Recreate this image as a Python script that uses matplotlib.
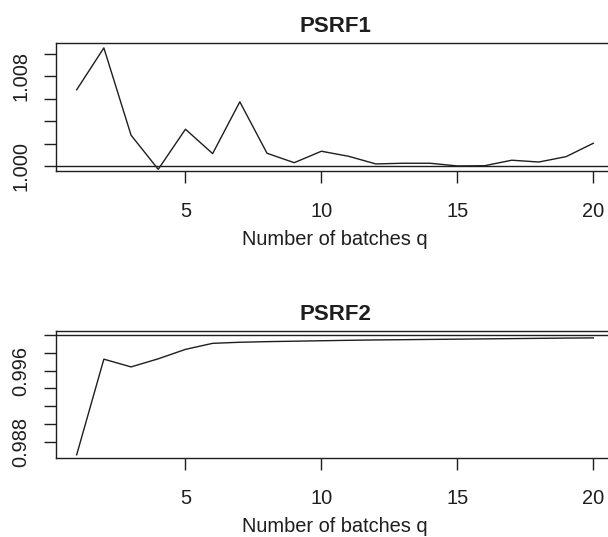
import numpy as np
from matplotlib import pyplot as plt

plt.rcParams['font.family'] = ['Liberation Sans', 'DejaVu Sans']

# Numero de batches
q = list(range(1, 21))

# Valores
psrf1 = [1.00681, 1.01054, 1.00277, 0.99973, 1.00330, 1.00113, 1.00574, 1.00116,
         1.00032, 1.00134, 1.00089, 1.00021, 1.00027, 1.00027, 1.00003, 1.00005,
         1.00054, 1.00038, 1.00086, 1.00205]
psrf2 = [0.98653, 0.99728, 0.99641, 0.99732, 0.99838, 0.99906, 0.99918, 0.99925,
         0.99930, 0.99935, 0.99940, 0.99944, 0.99947, 0.99950, 0.99953, 0.99956,
         0.99959, 0.99962, 0.99965, 0.99967]

xticks = [5, 10, 15, 20]
yticks1 = [1.000, 1.002, 1.004, 1.006, 1.008, 1.010]
ylabels1 = ['1.000', '', '', '', '1.008', '']
yticks2 = [0.988, 0.990, 0.992, 0.994, 0.996, 0.998, 1.000]
ylabels2 = ['0.988', '', '', '', '0.996', '', '']

W, H = 608, 537
fig = plt.figure(figsize=(W / 100, H / 100), dpi=100)
color = '#1e1e1e'
fs = 14.4


def panel(top, bottom, y, titulo, ylim, yt, yl):
    # el marco sigue un poco mas alla del borde derecho, como en la original
    left, right = 56, 614
    ax = fig.add_axes([left / W, 1 - bottom / H, (right - left) / W, (bottom - top) / H])
    ax.plot(q, y, color=color, lw=1.0)
    ax.axhline(1.0, color=color, lw=1.0)
    ax.set_xlim(0.24, 20.76)
    ax.set_ylim(*ylim)
    ax.set_xticks(xticks)
    ax.set_xticklabels([str(t) for t in xticks])
    ax.set_yticks(yt)
    ax.set_yticklabels(yl, rotation=90, va='center')
    ax.tick_params(axis='both', direction='out', length=8.6, width=1.0, colors=color,
                   labelsize=fs, labelcolor=color)
    ax.tick_params(axis='x', pad=13.7)
    ax.tick_params(axis='y', pad=10)
    for s in ax.spines.values():
        s.set_color(color)
        s.set_linewidth(1.0)
    ax.set_title(titulo, fontsize=16, fontweight='bold', color=color, pad=8)
    ax.set_xlabel('Number of batches q', fontsize=fs, color=color, labelpad=6.5)
    return ax


panel(43.3, 171, psrf1, 'PSRF1', (0.99958, 1.01095), yticks1, ylabels1)
panel(330.7, 458, psrf2, 'PSRF2', (0.98617, 1.00048), yticks2, ylabels2)

fig.savefig('out.png', dpi=100)
